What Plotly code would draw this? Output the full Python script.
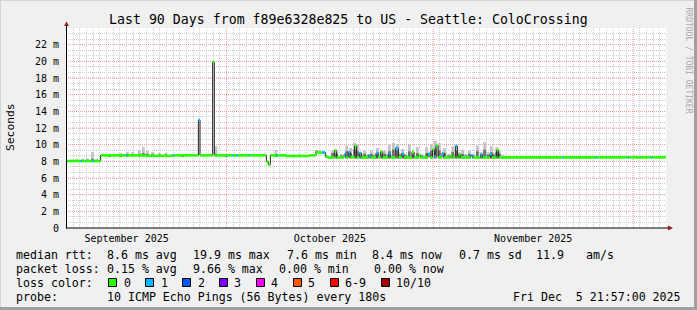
import plotly.graph_objects as go
import pandas as pd

# ---------------- data ----------------
START = "2025-09-06 21:57:00"
END = "2025-12-05 21:57:00"
month_starts = ["2025-10-01", "2025-11-01", "2025-12-01"]

# median RTT step function: start day (offset from START), value (ms), loss level
med_t = [0.0, 2.2, 2.4, 3.9, 4.1, 5.2, 9.0, 9.2, 12.0, 16.0, 16.15, 19.85, 20.1, 22.0, 22.25,
         25.0, 25.15, 25.6, 25.75, 27.4, 27.55, 30.05, 30.35, 30.65, 31.5, 31.65, 33.0, 36.5,
         37.5, 38.4, 38.9, 39.3, 40.3, 40.6, 41.7, 41.95, 42.35, 42.65, 43.3, 43.6, 44.0, 44.3,
         45.4, 45.7, 46.5, 46.8, 47.2, 47.5, 48.4, 48.7, 49.45, 49.85, 50.4, 50.7, 51.9, 52.2,
         52.9, 53.2, 54.3, 54.6, 55.0, 55.3, 55.5, 55.8, 56.4, 56.7, 57.7, 58.0, 58.4, 58.7,
         58.9, 59.2, 60.7, 61.0, 62.2, 62.5, 63.6, 63.9, 64.6, 64.9, 65.8, 74.5, 74.65, 79.4,
         79.55, 84.2, 84.35, 87.8, 87.95, 90.0]
med_v = [8.04, 8.04, 8.04, 8.04, 8.04, 8.72, 8.72, 8.72, 8.66, 8.72, 8.72, 12.95, 8.72, 19.9, 8.72,
         8.72, 8.72, 8.72, 8.72, 8.72, 8.72, 7.95, 7.6, 8.72, 8.72, 8.72, 8.64, 8.72,
         9.06, 9.06, 8.55, 8.46, 9.3, 8.46, 8.8, 8.46, 9.1, 8.5, 9.85, 8.46, 9.0, 8.46,
         8.7, 8.46, 9.0, 8.5, 9.15, 8.46, 8.9, 8.46, 9.6, 8.5, 8.9, 8.46, 9.1, 8.46,
         8.7, 8.46, 8.9, 8.46, 9.4, 8.6, 9.9, 8.46, 9.0, 8.46, 8.7, 8.46, 9.85, 8.5,
         8.8, 8.46, 8.7, 8.46, 8.8, 8.46, 8.9, 8.46, 9.35, 8.46, 8.48, 8.48, 8.48, 8.48,
         8.48, 8.48, 8.48, 8.48, 8.48, 8.48]
med_loss = [0, 1, 0, 1, 0, 0, 1, 0, 0, 1, 0, 1, 0, 0, 0,
            1, 0, 1, 0, 1, 0, 0, 0, 0, 1, 0, 0, 0,
            0, 1, 0, 0, 0, 0, 1, 0, 1, 0, 0, 0, 1, 0,
            1, 0, 1, 0, 0, 0, 1, 0, 1, 0, 1, 0, 0, 0,
            0, 0, 1, 0, 0, 1, 0, 0, 1, 0, 0, 0, 1, 0,
            0, 0, 1, 0, 1, 0, 1, 0, 0, 0, 0, 1, 0, 1,
            0, 1, 0, 1, 0, 0]

# smoke (spread of the individual pings): day, low, dense-upper, max (ms)
smoke_t = [1.0, 1.6, 2.5, 3.2, 3.97, 4.6,
           6.5, 8.2, 9.2, 10.0, 11.0, 11.6, 12.2, 13.0, 14.0, 15.0, 17.5, 22.5, 24.0, 31.5, 35.0, 37.6,
           40.0, 40.6, 41.3, 42.1, 42.7, 43.3, 43.7, 44.3, 44.8, 45.3, 45.8, 46.2, 46.7, 47.3, 47.8,
           48.2, 48.5, 49.1, 49.7, 50.1, 50.5, 51.0, 51.5, 52.1, 52.7, 53.4, 54.1, 54.8, 55.4, 56.0,
           56.8, 57.4, 58.0, 58.6, 59.0, 59.5, 60.0, 60.5, 61.1, 61.7, 62.3, 62.8, 63.3, 63.8, 64.2,
           64.6, 65.0, 65.5]
smoke_lo = [7.95] * 6 + [8.6] * 15 + [9.0] + [8.35] * 48
smoke_mid = [8.1, 8.1, 8.1, 8.15, 8.3, 8.1,
             8.8, 8.8, 8.85, 8.85, 8.9, 9.0, 8.9, 8.85, 8.8, 8.8, 8.75, 8.9, 8.75, 8.8, 8.75, 9.2,
             9.0, 8.9, 8.7, 9.2, 9.0, 9.4, 9.2, 8.7, 8.9, 8.7, 8.9, 8.7, 9.1, 8.8, 8.9,
             8.7, 9.2, 9.4, 9.3, 8.8, 9.0, 8.7, 9.2, 8.8, 9.0, 8.7, 9.0, 9.3, 9.5, 9.3,
             9.0, 8.7, 9.1, 9.3, 8.8, 8.9, 8.7, 8.9, 8.7, 9.2, 8.8, 9.4, 8.8, 9.1, 8.8,
             9.1, 8.9, 8.6]
smoke_hi = [8.2, 8.25, 8.3, 8.35, 9.1, 8.3,
            8.9, 9.0, 9.15, 9.1, 9.35, 9.7, 9.3, 9.1, 9.0, 9.0, 8.9, 9.8, 8.9, 9.35, 8.9, 9.4,
            9.3, 9.2, 8.9, 9.9, 9.6, 10.2, 10.0, 9.0, 9.3, 8.9, 9.3, 8.9, 9.6, 9.1, 9.3,
            8.9, 10.0, 10.2, 10.1, 9.0, 9.5, 8.9, 10.1, 9.1, 9.7, 8.9, 9.7, 10.1, 10.5, 10.2,
            9.6, 8.9, 9.8, 9.9, 9.1, 9.4, 8.9, 9.3, 8.9, 9.9, 9.1, 10.3, 9.1, 9.8, 9.0,
            9.7, 9.2, 8.8]

y_range = [0, 24]
y_tickvals = [0, 2, 4, 6, 8, 10, 12, 14, 16, 18, 20, 22]
y_ticktext = ["0", "2 m", "4 m", "6 m", "8 m", "10 m", "12 m", "14 m", "16 m", "18 m", "20 m", "22 m"]

loss_labels = ["0", "1", "2", "3", "4", "5", "6-9", "10/10"]
loss_colors = ["#26ff00", "#00b8ff", "#0059ff", "#7e00ff", "#ff00ff", "#ff5500", "#ff0000", "#a10000"]

title = "Last 90 Days from f89e6328e825 to US - Seattle: ColoCrossing"
row1 = ["median rtt:", "8.6 ms avg", "19.9 ms max", "7.6 ms min", "8.4 ms now", "0.7 ms sd", "11.9", "am/s"]
row2 = ["packet loss:", "0.15 % avg", "9.66 % max", "0.00 % min", "0.00 % now"]
row4 = ["probe:", "10 ICMP Echo Pings (56 Bytes) every 180s"]
stamp = "Fri Dec\u00a0 5 21:57:00 2025"

# ---------------- layout helpers ----------------
W, H = 697, 310
L, T, PW, PH = 66, 28, 600, 200
MONO = "DejaVu Sans Mono"


def px(x):
    return (x - L) / PW


def py(y):
    return (T + PH - y) / PH


start = pd.Timestamp(START)


def to_date(d):
    return start + pd.Timedelta(days=d)


fig = go.Figure()

# smoke
sx = [to_date(d) for d in smoke_t]
bw = 0.42 * 86400000
fig.add_trace(go.Bar(x=sx, y=[h - l for h, l in zip(smoke_hi, smoke_lo)], base=smoke_lo, width=bw,
                     marker=dict(color="#c2c2c2", line=dict(width=0)), hoverinfo="skip"))
fig.add_trace(go.Bar(x=sx, y=[m - l for m, l in zip(smoke_mid, smoke_lo)], base=smoke_lo, width=bw,
                     marker=dict(color="#707070", line=dict(width=0)), hoverinfo="skip"))

# median line
mx = [to_date(d) for d in med_t]
fig.add_trace(go.Scatter(x=mx, y=med_v, mode="lines", line=dict(shape="hv", color="#202020", width=1),
                         hoverinfo="skip"))

# loss-coloured band on median
for lvl in sorted(set(med_loss)):
    xs, ys = [], []
    for i in range(len(med_t) - 1):
        if med_loss[i] == lvl:
            xs += [mx[i], mx[i + 1], None]
            ys += [med_v[i], med_v[i], None]
    fig.add_trace(go.Scatter(x=xs, y=ys, mode="lines", line=dict(color=loss_colors[lvl], width=2.6),
                             hoverinfo="skip", connectgaps=False))

grid_major = "#f09a9a"
grid_minor = "#cfcfcf"

fig.update_layout(
    width=W, height=H, autosize=False,
    margin=dict(l=L, r=W - L - PW, t=T, b=H - T - PH, pad=0),
    paper_bgcolor="#f0f0f0", plot_bgcolor="#ffffff",
    showlegend=False, barmode="overlay", hovermode=False,
    xaxis=dict(type="date", range=[START, END], dtick="M1", tick0="2025-09-01", tickformat="%B %Y",
               ticklabelmode="period", showgrid=False,
               minor=dict(dtick=86400000, tick0="2025-09-01", showgrid=True, gridcolor=grid_minor,
                          griddash="1px,1px", gridwidth=1),
               showline=False, zeroline=False, ticks="", ticklabelstandoff=3,
               tickfont=dict(family=MONO, size=10, color="#000000"), fixedrange=True),
    yaxis=dict(range=y_range, tickmode="array", tickvals=y_tickvals, ticktext=y_ticktext,
               showgrid=False,
               minor=dict(tickmode="linear", tick0=0, dtick=2 / 3, showgrid=True, gridcolor=grid_minor,
                          griddash="1px,1px", gridwidth=1),
               zeroline=False, showline=False, ticks="", ticklabelstandoff=6,
               tickfont=dict(family=MONO, size=10, color="#000000"), fixedrange=True),
)

shapes = []
# major grid (month starts / every 2 ms), above the minor grid but under the data
for m in month_starts:
    shapes.append(dict(type="line", xref="x", yref="y", x0=m, x1=m, y0=y_range[0], y1=y_range[1],
                       line=dict(color=grid_major, width=1, dash="1px,1px"), layer="between"))
for v in y_tickvals[1:]:
    shapes.append(dict(type="line", xref="x", yref="y", x0=START, x1=END, y0=v, y1=v,
                       line=dict(color=grid_major, width=1, dash="1px,1px"), layer="between"))
# axes with arrows
shapes.append(dict(type="line", xref="paper", yref="paper", x0=px(66), x1=px(669), y0=py(228), y1=py(228),
                   line=dict(color="#000000", width=1), layer="above"))
shapes.append(dict(type="path", xref="paper", yref="paper",
                   path=f"M {px(668)} {py(225.5)} L {px(673)} {py(228)} L {px(668)} {py(230.5)} Z",
                   fillcolor="#9b1c1c", line=dict(width=0), layer="above"))
shapes.append(dict(type="line", xref="paper", yref="paper", x0=px(66.5), x1=px(66.5), y0=py(228.5), y1=py(25),
                   line=dict(color="#000000", width=1), layer="above"))
shapes.append(dict(type="path", xref="paper", yref="paper",
                   path=f"M {px(64)} {py(26)} L {px(66.5)} {py(21.5)} L {px(69)} {py(26)} Z",
                   fillcolor="#9b1c1c", line=dict(width=0), layer="above"))
# frame
shapes.append(dict(type="line", xref="paper", yref="paper", x0=px(0), x1=px(697), y0=py(0.5), y1=py(0.5),
                   line=dict(color="#d4d4d4", width=1)))
shapes.append(dict(type="line", xref="paper", yref="paper", x0=px(0.5), x1=px(0.5), y0=py(0), y1=py(310),
                   line=dict(color="#d4d4d4", width=1)))
shapes.append(dict(type="line", xref="paper", yref="paper", x0=px(695.5), x1=px(695.5), y0=py(0), y1=py(310),
                   line=dict(color="#a0a0a0", width=3)))
shapes.append(dict(type="line", xref="paper", yref="paper", x0=px(0), x1=px(697), y0=py(308.5), y1=py(308.5),
                   line=dict(color="#a0a0a0", width=3)))
# loss colour boxes
box_x = [108.5, 145.5, 182.5, 219.5, 256.5, 293.5, 330.5, 381.5]
label_x = [124, 161, 197.5, 234, 271, 307.5, 345, 396]
for bx, c in zip(box_x, loss_colors):
    shapes.append(dict(type="rect", xref="paper", yref="paper", x0=px(bx), x1=px(bx + 8),
                       y0=py(286.5), y1=py(278.5), fillcolor=c, line=dict(color="#000000", width=1),
                       layer="above"))
fig.update_layout(shapes=shapes)

ann = []
LF = 11.6


def text(s, x, y, anchor="left", size=LF, color="#000000", angle=0):
    ann.append(dict(text=s, x=px(x), y=py(y), xref="paper", yref="paper", showarrow=False,
                    xanchor=anchor, yanchor="middle", textangle=angle, borderpad=0, borderwidth=0,
                    font=dict(family=MONO, size=size, color=color)))


text(title, 348, 19, anchor="center", size=13.25)
text("Seconds", 10, 127, anchor="center", size=11.3, angle=-90)
text("RRDTOOL / TOBI OETIKER", 688.5, 60, anchor="center", size=8, color="#a8a8a8", angle=90)

for s, x in zip(row1, [16, 107, 193, 287, 372, 459, 536, 586]):
    text(s, x, 254.5)
for s, x in zip(row2, [16, 107, 193, 279, 374]):
    text(s, x, 268.5)
text("loss color:", 16, 282.5)
for s, x in zip(loss_labels, label_x):
    text(s, x, 282.5)
for s, x in zip(row4, [16, 107]):
    text(s, x, 296.5)
text(stamp, 681, 296.5, anchor="right")

fig.update_layout(annotations=ann)

fig.write_html("out.html")
